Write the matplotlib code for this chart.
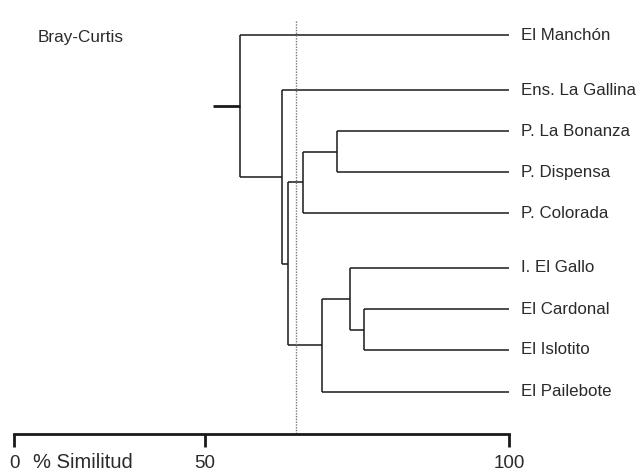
import numpy as np
import matplotlib
matplotlib.use("Agg")
import matplotlib.pyplot as plt

plt.rcParams['font.family'] = ['Liberation Sans', 'DejaVu Sans']

# leaves of the dendrogram, top to bottom
leaves = ['El Manchón', 'Ens. La Gallina', 'P. La Bonanza', 'P. Dispensa',
          'P. Colorada', 'I. El Gallo', 'El Cardonal', 'El Islotito', 'El Pailebote']
leaf_y = [35, 90, 131, 172, 213, 268, 309, 350, 392]

# merges: (child a, child b, % similarity); new nodes get ids 9, 10, ...
merges = [(2, 3, 71.7),
          (6, 7, 76.1),
          (5, 10, 73.8),
          (9, 4, 66.1),
          (11, 8, 69.3),
          (12, 13, 63.7),
          (1, 14, 62.6),
          (0, 15, 55.8)]
root_stub = 51.3
cutoff = 64.9
xticks = [0, 50, 100]


# the printed axis is not linear: 0-50 is shorter than 50-100
def fwd(s):
    s = np.asarray(s, float)
    return np.where(s <= 50, s * 191 / 50, 191 + (s - 50) * 304 / 50)


def inv(p):
    p = np.asarray(p, float)
    return np.where(p <= 191, p * 50 / 191, 50 + (p - 191) * 50 / 304)


fig = plt.figure(figsize=(6.39, 4.74), dpi=100)
ax = fig.add_axes([0, 0, 1, 1])
ax.set_xscale('function', functions=(fwd, inv))
ax.set_xlim(-14 * 50 / 191, 50 + (625 - 191) * 50 / 304)
ax.set_ylim(474, 0)

col = '#1a1a1a'
tcol = '#2a2a2a'
lw = 1.1

# node positions: leaves sit at 100 %
pos_x = {i: 100.0 for i in range(len(leaves))}
pos_y = {i: y for i, y in enumerate(leaf_y)}
for i, (a, b, s) in enumerate(merges):
    n = len(leaves) + i
    for c in (a, b):
        ax.plot([s, pos_x[c]], [pos_y[c], pos_y[c]], color=col, lw=lw, solid_capstyle='butt')
    ax.plot([s, s], [pos_y[a], pos_y[b]], color=col, lw=lw, solid_capstyle='butt')
    pos_x[n] = s
    pos_y[n] = (pos_y[a] + pos_y[b]) / 2

root = len(leaves) + len(merges) - 1
ax.plot([root_stub, pos_x[root]], [pos_y[root], pos_y[root]], color=col, lw=2, solid_capstyle='butt')

# similarity cut
ax.plot([cutoff, cutoff], [21, 434], color='#777777', lw=1, ls=(0, (1, 1)))

for name, y in zip(leaves, leaf_y):
    ax.text(102, y, name, va='center', ha='left', fontsize=12.2, color=tcol)

ax.text(6.3, 37, 'Bray-Curtis', va='center', ha='left', fontsize=12.3, color=tcol)
ax.text(5.0, 462, '% Similitud', va='center', ha='left', fontsize=14.5, color=tcol)

for s in ['top', 'left', 'right']:
    ax.spines[s].set_visible(False)
ax.spines['bottom'].set_position(('data', 434))
ax.spines['bottom'].set_bounds(0, 100)
ax.spines['bottom'].set_linewidth(2)
ax.spines['bottom'].set_color(col)
ax.set_xticks(xticks)
ax.set_xticklabels([str(t) for t in xticks])
ax.tick_params(axis='x', direction='out', length=9, width=2, color=col,
               labelsize=13.5, pad=6, labelcolor=tcol)
ax.set_yticks([])
ax.minorticks_off()

fig.savefig('out.png', dpi=100)
